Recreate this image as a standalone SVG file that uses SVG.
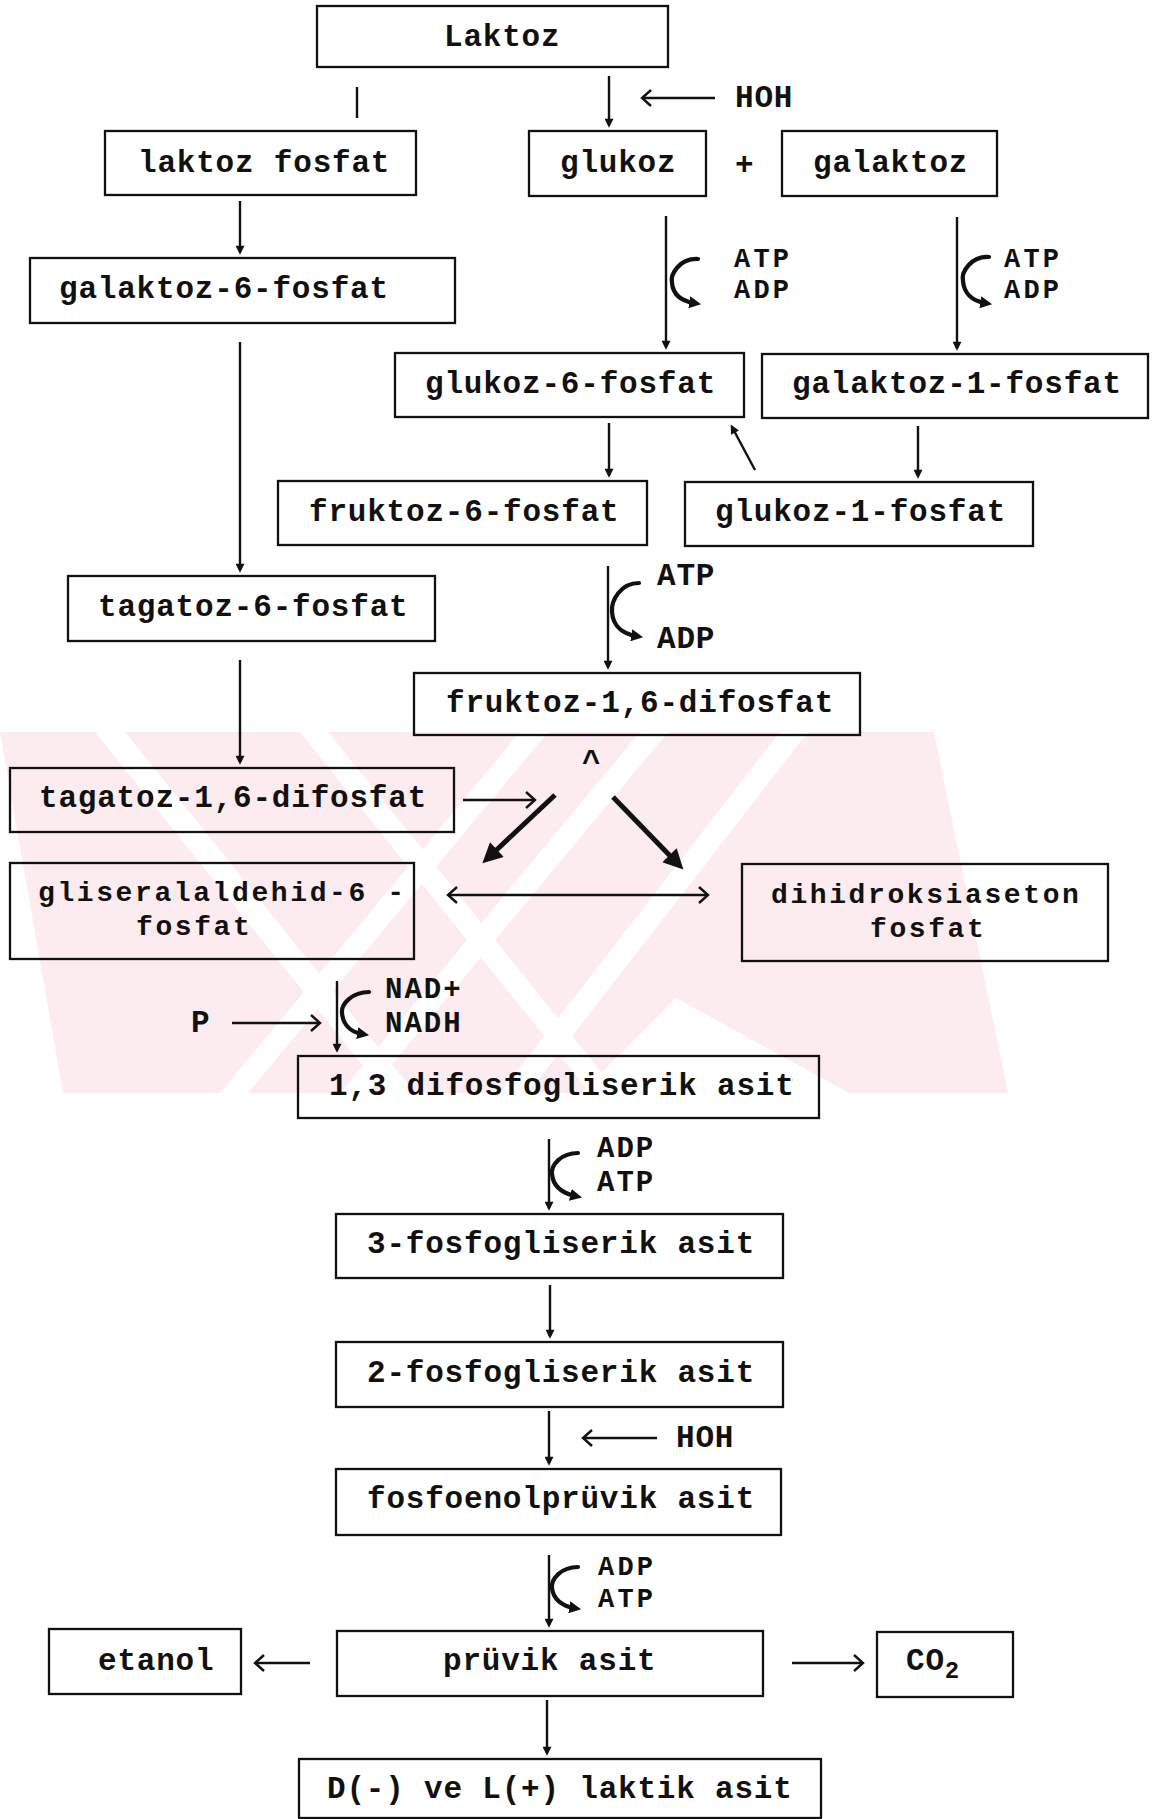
<svg xmlns="http://www.w3.org/2000/svg" width="1158" height="1819" viewBox="0 0 1158 1819">
<style>
.box{fill:none;stroke:#111;stroke-width:2.3}
.t{font-family:"Liberation Mono","Courier New",monospace;font-weight:bold;font-size:31px;letter-spacing:0.8px;fill:#111}
.t2{font-size:28px;letter-spacing:2.6px}
.l27{font-size:27px;letter-spacing:3.2px}
.l29{font-size:29px;letter-spacing:2px}
.ln{fill:none;stroke:#111;stroke-width:2.4}
.hook{fill:none;stroke:#111;stroke-width:4.2;stroke-linecap:round}
.big{fill:none;stroke:#111;stroke-width:5}
.wm{fill:#fdecef}
.ws{fill:#fff}
</style>
<defs>
<marker id="ah" viewBox="0 0 10 10" refX="7" refY="5" markerWidth="15" markerHeight="9" markerUnits="userSpaceOnUse" orient="auto"><path d="M0,0 L10,5 L0,10 z" fill="#111"/></marker>
<marker id="hk" viewBox="0 0 10 10" refX="4" refY="5" markerWidth="12" markerHeight="12" markerUnits="userSpaceOnUse" orient="auto"><path d="M0,0 L10,5 L0,10 z" fill="#111"/></marker>
<marker id="bg" viewBox="0 0 10 10" refX="5.4" refY="5" markerWidth="26" markerHeight="20" markerUnits="userSpaceOnUse" orient="auto"><path d="M0,0 L10,5 L0,10 z" fill="#111"/></marker>
<marker id="ch" viewBox="-2 -2 14 20" refX="9" refY="8" markerWidth="14" markerHeight="20" markerUnits="userSpaceOnUse" orient="auto-start-reverse"><path d="M0,0 L9,8 L0,16" fill="none" stroke="#111" stroke-width="2.4"/></marker>
</defs>
<rect width="1158" height="1819" fill="#fff"/>
<g id="watermark">
<polygon class="wm" points="0,732 934,732 1008,1093 63,1093"/>
<polygon class="ws" points="676,998 849,1093 581,1093"/>
<polygon class="ws" points="95,732 125,732 415,1093 385,1093"/>
<polygon class="ws" points="300,732 328,732 618,1093 590,1093"/>
<polygon class="ws" points="520,732 548,732 248,1093 220,1093"/>
<polygon class="ws" points="640,732 668,732 368,1093 340,1093"/>
<polygon class="ws" points="780,732 808,732 528,1093 500,1093"/>
</g>
<g id="nodes">
<g id="n-laktoz"><rect class="box" x="317" y="6" width="351" height="61"/><text class="t" x="444" y="46">Laktoz</text></g>
<g id="n-laktoz-fosfat"><rect class="box" x="105" y="131" width="311" height="64"/><text class="t" x="138" y="172">laktoz fosfat</text></g>
<g id="n-glukoz"><rect class="box" x="529" y="131" width="177" height="65"/><text class="t" x="560" y="172">glukoz</text></g>
<g id="n-galaktoz"><rect class="box" x="782" y="131" width="215" height="65"/><text class="t" x="813" y="172">galaktoz</text></g>
<g id="n-galaktoz-6-fosfat"><rect class="box" x="30" y="258" width="425" height="65"/><text class="t" x="59" y="298">galaktoz-6-fosfat</text></g>
<g id="n-glukoz-6-fosfat"><rect class="box" x="395" y="353" width="349" height="64"/><text class="t" x="425" y="393">glukoz-6-fosfat</text></g>
<g id="n-galaktoz-1-fosfat"><rect class="box" x="762" y="354" width="386" height="64"/><text class="t" x="792" y="393">galaktoz-1-fosfat</text></g>
<g id="n-fruktoz-6-fosfat"><rect class="box" x="278" y="481" width="369" height="64"/><text class="t" x="309" y="521">fruktoz-6-fosfat</text></g>
<g id="n-glukoz-1-fosfat"><rect class="box" x="685" y="482" width="348" height="64"/><text class="t" x="715" y="521">glukoz-1-fosfat</text></g>
<g id="n-tagatoz-6-fosfat"><rect class="box" x="68" y="576" width="367" height="65"/><text class="t" x="98" y="616">tagatoz-6-fosfat</text></g>
<g id="n-fruktoz-16-difosfat"><rect class="box" x="414" y="673" width="446" height="62"/><text class="t" x="446" y="712">fruktoz-1,6-difosfat</text></g>
<g id="n-tagatoz-16-difosfat"><rect class="box" x="10" y="768" width="444" height="64"/><text class="t" x="39" y="807">tagatoz-1,6-difosfat</text></g>
<g id="n-gliseralaldehid"><rect class="box" x="10" y="863" width="404" height="96"/><text class="t t2" x="38" y="901">gliseralaldehid-6 -</text><text class="t t2" x="136" y="935">fosfat</text></g>
<g id="n-dihidroksiaseton"><rect class="box" x="742" y="864" width="366" height="97"/><text class="t t2" x="771" y="903">dihidroksiaseton</text><text class="t t2" x="870" y="937">fosfat</text></g>
<g id="n-13-difosfogliserik"><rect class="box" x="298" y="1056" width="521" height="62"/><text class="t" x="329" y="1095">1,3 difosfogliserik asit</text></g>
<g id="n-3-fosfogliserik"><rect class="box" x="336" y="1214" width="447" height="64"/><text class="t" x="367" y="1253">3-fosfogliserik asit</text></g>
<g id="n-2-fosfogliserik"><rect class="box" x="336" y="1342" width="447" height="65"/><text class="t" x="367" y="1382">2-fosfogliserik asit</text></g>
<g id="n-fosfoenolpruvik"><rect class="box" x="336" y="1469" width="445" height="66"/><text class="t" x="367" y="1508">fosfoenolprüvik asit</text></g>
<g id="n-pruvik"><rect class="box" x="337" y="1631" width="426" height="65"/><text class="t" x="443" y="1670">prüvik asit</text></g>
<g id="n-etanol"><rect class="box" x="49" y="1629" width="192" height="65"/><text class="t" x="98" y="1670">etanol</text></g>
<g id="n-co2"><rect class="box" x="877" y="1632" width="136" height="65"/><text class="t" x="906" y="1670">CO<tspan font-size="24" dy="8">2</tspan></text></g>
<g id="n-laktik"><rect class="box" x="299" y="1759" width="522" height="59"/><text class="t" x="327" y="1798">D(-) ve L(+) laktik asit</text></g>
</g>
<g id="connectors">
<line class="ln" x1="357" y1="87" x2="357" y2="118"/>
<line class="ln" x1="609" y1="76" x2="609" y2="125" marker-end="url(#ah)"/>
<line class="ln" x1="642" y1="98" x2="715" y2="98" marker-start="url(#ch)"/>
<line class="ln" x1="240" y1="201" x2="240" y2="252" marker-end="url(#ah)"/>
<line class="ln" x1="666" y1="216" x2="666" y2="347" marker-end="url(#ah)"/>
<path class="hook" d="M698,259 C680,258 670,274 672,283 C673,295 682,301 694,303" marker-end="url(#hk)"/>
<line class="ln" x1="957" y1="217" x2="957" y2="348" marker-end="url(#ah)"/>
<path class="hook" d="M989,257 C971,256 961,272 963,281 C964,294 973,301 985,303" marker-end="url(#hk)"/>
<line class="ln" x1="240" y1="342" x2="240" y2="570" marker-end="url(#ah)"/>
<line class="ln" x1="609" y1="423" x2="609" y2="475" marker-end="url(#ah)"/>
<line class="ln" x1="755" y1="470" x2="732" y2="427" marker-end="url(#ah)" stroke-width="3"/>
<line class="ln" x1="918" y1="426" x2="918" y2="476" marker-end="url(#ah)"/>
<line class="ln" x1="608" y1="566" x2="608" y2="667" marker-end="url(#ah)"/>
<path class="hook" d="M639,583 C621,583 611,600 612,612 C613,627 624,634 636,636" marker-end="url(#hk)"/>
<line class="ln" x1="240" y1="660" x2="240" y2="762" marker-end="url(#ah)"/>
<line class="ln" x1="463" y1="800" x2="535" y2="800" marker-end="url(#ch)"/>
<line class="big" x1="555" y1="795" x2="489" y2="857" marker-end="url(#bg)"/>
<line class="big" x1="613" y1="797" x2="677" y2="863" marker-end="url(#bg)"/>
<line class="ln" x1="448" y1="895" x2="708" y2="895" marker-start="url(#ch)" marker-end="url(#ch)"/>
<line class="ln" x1="232" y1="1023" x2="320" y2="1023" marker-end="url(#ch)"/>
<line class="ln" x1="337" y1="981" x2="337" y2="1050" marker-end="url(#ah)"/>
<path class="hook" d="M369,992 C352,992 341,1004 342,1013 C343,1025 351,1032 362,1034" marker-end="url(#hk)"/>
<line class="ln" x1="549" y1="1139" x2="549" y2="1208" marker-end="url(#ah)"/>
<path class="hook" d="M578,1153 C561,1153 551,1165 552,1174 C553,1186 562,1193 575,1196" marker-end="url(#hk)"/>
<line class="ln" x1="550" y1="1285" x2="550" y2="1336" marker-end="url(#ah)"/>
<line class="ln" x1="549" y1="1411" x2="549" y2="1463" marker-end="url(#ah)"/>
<line class="ln" x1="583" y1="1438" x2="657" y2="1438" marker-start="url(#ch)"/>
<line class="ln" x1="549" y1="1555" x2="549" y2="1625" marker-end="url(#ah)"/>
<path class="hook" d="M578,1567 C561,1567 551,1579 552,1588 C553,1599 562,1606 574,1608" marker-end="url(#hk)"/>
<line class="ln" x1="255" y1="1663" x2="310" y2="1663" marker-start="url(#ch)"/>
<line class="ln" x1="792" y1="1663" x2="863" y2="1663" marker-end="url(#ch)"/>
<line class="ln" x1="547" y1="1700" x2="547" y2="1753" marker-end="url(#ah)" stroke-width="3"/>
</g>
<g id="labels">
<text class="t" x="735" y="174">+</text>
<text class="t" x="735" y="107">HOH</text>
<text class="t l27" x="734" y="267">ATP</text>
<text class="t l27" x="734" y="298">ADP</text>
<text class="t l27" x="1004" y="267">ATP</text>
<text class="t l27" x="1004" y="298">ADP</text>
<text class="t" x="657" y="585">ATP</text>
<text class="t" x="657" y="648">ADP</text>
<text class="t" x="582" y="772" font-size="18">^</text>
<text class="t" x="191" y="1032">P</text>
<text class="t l29" x="385" y="998">NAD+</text>
<text class="t l29" x="385" y="1032">NADH</text>
<text class="t l29" x="597" y="1157">ADP</text>
<text class="t l29" x="597" y="1191">ATP</text>
<text class="t" x="676" y="1447">HOH</text>
<text class="t l27" x="598" y="1575">ADP</text>
<text class="t l27" x="598" y="1607">ATP</text>
</g>
</svg>
